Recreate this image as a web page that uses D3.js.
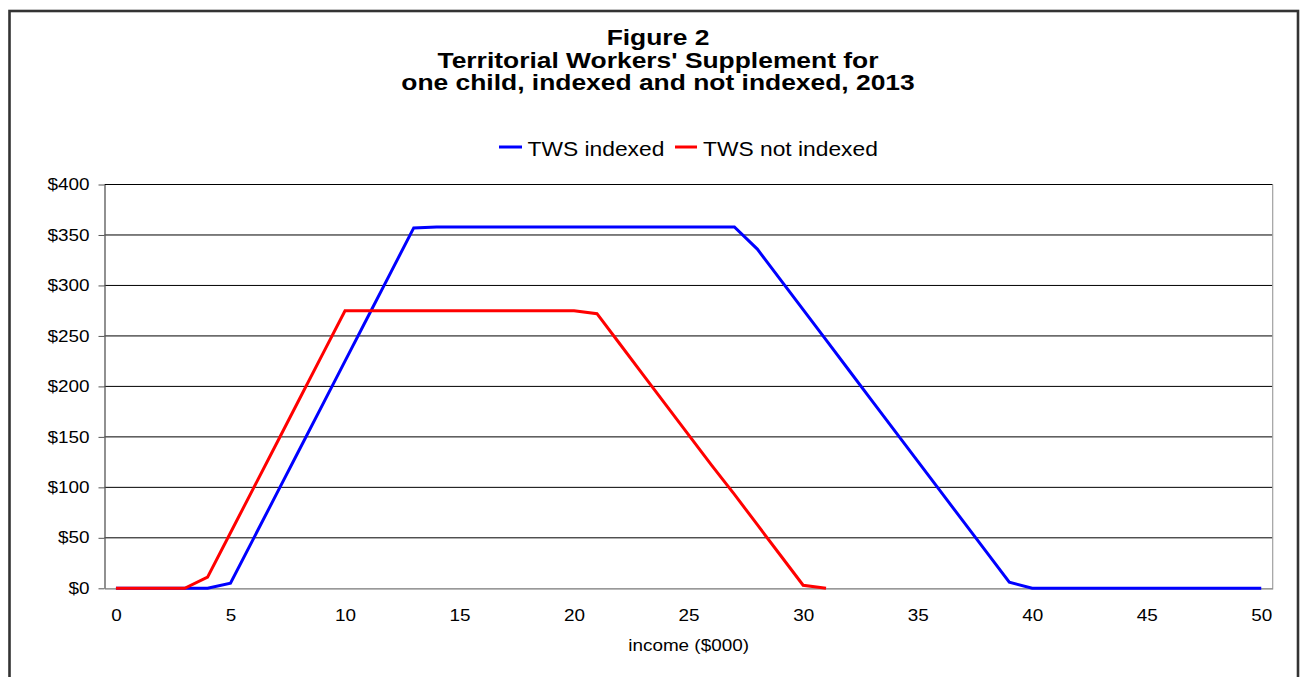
<!DOCTYPE html>
<html><head><meta charset="utf-8">
<script src="https://cdn.jsdelivr.net/npm/d3@7"></script>
<style>
html,body{margin:0;padding:0;background:#fff;}
svg{display:block;font-family:"Liberation Sans",Arial,sans-serif;}
</style></head>
<body>
<svg id="c" width="1301" height="677"></svg>
<script>
// ---- data ----
const titleLines = ["Figure 2", "Territorial Workers' Supplement for", "one child, indexed and not indexed, 2013"];
const xTitle = "income ($000)";
const income = [0,1,2,3,4,5,6,7,8,9,10,11,12,13,14,15,16,17,18,19,20,21,22,23,24,25,26,27,28,29,30,31,32,33,34,35,36,37,38,39,40,41,42,43,44,45,46,47,48,49,50];
const xTickLabels = [0,5,10,15,20,25,30,35,40,45,50];
const yTicks = [0,50,100,150,200,250,300,350,400];
const seriesNames = ["TWS indexed", "TWS not indexed"];
const twsIndexed = [0,0,0,0,0,5,49,93,137,181,225,269,313,357,358,358,358,358,358,358,358,358,358,358,358,358,358,358,336,306,276,246,216,186,156,126,96,66,36,6,0,0,0,0,0,0,0,0,0,0,0];
const twsNotIndexed = [0,0,0,0,11,55,99,143,187,231,275,275,275,275,275,275,275,275,275,275,275,272,242,212,182,152,122,93,63,33,3,0,null,null,null,null,null,null,null,null,null,null,null,null,null,null,null,null,null,null,null];
const colors = ["#0000ff", "#ff0000"];

// ---- layout ----
const svg = d3.select("#c");
const plot = {left:104.5, right:1272.7, top:184.5, bottom:588.3};

// outer frame
svg.append("rect").attr("x",9.5).attr("y",11).attr("width",1288.5).attr("height",700)
  .attr("fill","none").attr("stroke","#333").attr("stroke-width",2.6);

function stretch(sel, sx){
  sel.each(function(){
    const w = this.getComputedTextLength();
    d3.select(this).attr("textLength", w*sx).attr("lengthAdjust","spacingAndGlyphs");
  });
}

// title
const tt = svg.append("g").attr("font-weight","bold").attr("font-size",22).attr("text-anchor","middle").attr("fill","#000");
tt.selectAll("text").data(titleLines).join("text")
  .attr("x",658).attr("y",(d,i)=>45+i*22.5).text(d=>d).call(stretch,1.2);

const x = d3.scalePoint().domain(income).range([plot.left, plot.right]).padding(0.5);
const y = d3.scaleLinear().domain([0,400]).range([plot.bottom, plot.top]);

// gridlines
svg.append("g").selectAll("line").data(yTicks.filter(d=>d>0)).join("line")
  .attr("x1",plot.left).attr("x2",plot.right).attr("y1",d=>y(d)).attr("y2",d=>y(d))
  .attr("stroke","#000").attr("stroke-width",1);

// right border of plot area
svg.append("line").attr("x1",plot.right).attr("x2",plot.right).attr("y1",plot.top).attr("y2",plot.bottom)
  .attr("stroke","#a0a0a0").attr("stroke-width",1.2);

// y axis
const yAxis = svg.append("g").attr("transform",`translate(${plot.left},0)`)
  .call(d3.axisLeft(y).tickValues(yTicks).tickFormat(d=>"$"+d).tickSize(6).tickPadding(9).tickSizeOuter(0));
yAxis.select(".domain").attr("stroke","#555").attr("stroke-width",1.3);
yAxis.selectAll(".tick line").attr("stroke","#555");
yAxis.selectAll("text").attr("font-size",16).attr("fill","#000").attr("font-family","Liberation Sans, Arial, sans-serif").call(stretch,1.18);

// x axis
const xAxis = svg.append("g").attr("transform",`translate(0,${plot.bottom})`)
  .call(d3.axisBottom(x).tickValues(xTickLabels).tickSize(0).tickPadding(21).tickSizeOuter(0));
xAxis.select(".domain").attr("stroke","#777").attr("stroke-width",1.2);
xAxis.selectAll("text").attr("font-size",16).attr("fill","#000").attr("font-family","Liberation Sans, Arial, sans-serif").call(stretch,1.18);

// x title
svg.append("text").attr("x",(plot.left+plot.right)/2).attr("y",651).attr("text-anchor","middle")
  .attr("font-size",16).text(xTitle).call(stretch,1.18);

// lines
const line = d3.line().defined(d=>d[1]!==null).x(d=>x(d[0])).y(d=>y(d[1]));
[twsIndexed, twsNotIndexed].forEach((s,i)=>{
  svg.append("path").datum(income.map((v,j)=>[v,s[j]]))
    .attr("d",line).attr("fill","none").attr("stroke",colors[i]).attr("stroke-width",3)
    .attr("stroke-linejoin","miter");
});

// legend
const legendItems = [
  {name:seriesNames[0], color:colors[0], x1:499, x2:522, tx:527.5},
  {name:seriesNames[1], color:colors[1], x1:675, x2:697, tx:703}
];
const lg = svg.append("g");
legendItems.forEach(it=>{
  lg.append("line").attr("x1",it.x1).attr("x2",it.x2).attr("y1",147).attr("y2",147)
    .attr("stroke",it.color).attr("stroke-width",3);
  lg.append("text").attr("x",it.tx).attr("y",156).attr("font-size",20).text(it.name).call(stretch,1.14);
});
</script>
</body></html>
